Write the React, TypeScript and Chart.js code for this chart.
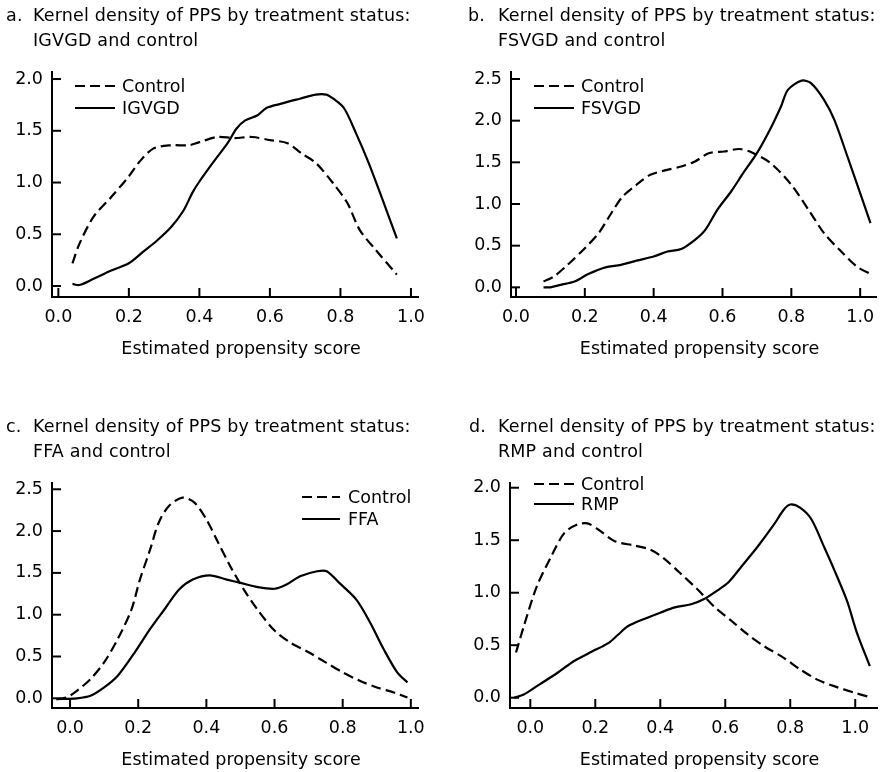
import React, { useEffect, useRef } from "react";
import { Chart, registerables } from "chart.js";

Chart.register(...registerables);

const FONT = "'DejaVu Sans', sans-serif";
const FS = 17.5;

const xTickValues = [0, 0.2, 0.4, 0.6, 0.8, 1.0];
const yTicksTo2 = [0, 0.5, 1.0, 1.5, 2.0];
const yTicksTo25 = [0, 0.5, 1.0, 1.5, 2.0, 2.5];
const xAxisTitle = "Estimated propensity score";
const controlLabel = "Control";

// Panel a: IGVGD and control
const aControlX = [0.04, 0.06, 0.1, 0.15, 0.2, 0.23, 0.27, 0.32, 0.37, 0.4, 0.45, 0.5, 0.55, 0.6, 0.65, 0.69, 0.73, 0.78, 0.82, 0.855, 0.9, 0.96];
const aControlY = [0.22, 0.41, 0.67, 0.86, 1.06, 1.2, 1.33, 1.36, 1.36, 1.39, 1.44, 1.43, 1.44, 1.41, 1.38, 1.28, 1.19, 0.99, 0.8, 0.54, 0.35, 0.11];
const aTreatX = [0.04, 0.06, 0.1, 0.15, 0.2, 0.24, 0.28, 0.32, 0.355, 0.38, 0.4, 0.44, 0.48, 0.505, 0.53, 0.565, 0.59, 0.63, 0.685, 0.73, 0.76, 0.78, 0.81, 0.845, 0.88, 0.92, 0.96];
const aTreatY = [0.02, 0.01, 0.07, 0.15, 0.22, 0.33, 0.44, 0.57, 0.73, 0.9, 1.01, 1.2, 1.38, 1.52, 1.6, 1.65, 1.72, 1.76, 1.81, 1.85, 1.85, 1.81, 1.72, 1.47, 1.19, 0.83, 0.46];

// Panel b: FSVGD and control
const bControlX = [0.08, 0.11, 0.15, 0.2, 0.24, 0.28, 0.31, 0.35, 0.39, 0.43, 0.48, 0.52, 0.56, 0.605, 0.65, 0.69, 0.74, 0.8, 0.85, 0.895, 0.94, 0.99, 1.03];
const bControlY = [0.07, 0.13, 0.27, 0.47, 0.65, 0.91, 1.09, 1.23, 1.35, 1.4, 1.45, 1.51, 1.61, 1.63, 1.66, 1.61, 1.49, 1.23, 0.93, 0.65, 0.45, 0.25, 0.16];
const bTreatX = [0.08, 0.1, 0.13, 0.17, 0.21, 0.26, 0.305, 0.35, 0.4, 0.44, 0.48, 0.52, 0.55, 0.585, 0.625, 0.66, 0.7, 0.74, 0.77, 0.79, 0.83, 0.857, 0.895, 0.925, 0.963, 1.0, 1.03];
const bTreatY = [0.0, 0.0, 0.03, 0.07, 0.16, 0.24, 0.27, 0.32, 0.37, 0.43, 0.46, 0.57, 0.69, 0.93, 1.15, 1.37, 1.61, 1.91, 2.17, 2.37, 2.48, 2.45, 2.25, 2.01, 1.57, 1.13, 0.77];

// Panel c: FFA and control
const cControlX = [-0.04, -0.01, 0.02, 0.06, 0.1, 0.14, 0.18, 0.205, 0.235, 0.26, 0.29, 0.33, 0.365, 0.4, 0.43, 0.47, 0.51, 0.55, 0.6, 0.645, 0.7, 0.75, 0.8, 0.85, 0.9, 0.95, 0.99];
const cControlY = [-0.01, 0.01, 0.09, 0.23, 0.43, 0.71, 1.06, 1.42, 1.78, 2.1, 2.3, 2.4, 2.34, 2.14, 1.9, 1.58, 1.3, 1.06, 0.81, 0.67, 0.55, 0.43, 0.31, 0.21, 0.13, 0.07, 0.01];
const cTreatX = [-0.04, 0.02, 0.06, 0.1, 0.14, 0.19, 0.235, 0.28, 0.32, 0.36, 0.41, 0.46, 0.5, 0.55, 0.6, 0.635, 0.675, 0.725, 0.753, 0.79, 0.84, 0.88, 0.92, 0.96, 0.99];
const cTreatY = [-0.01, 0.0, 0.03, 0.13, 0.27, 0.55, 0.83, 1.08, 1.3, 1.42, 1.47, 1.42, 1.38, 1.33, 1.31, 1.36, 1.46, 1.52, 1.52, 1.38, 1.18, 0.91, 0.59, 0.31, 0.19];

// Panel d: RMP and control
const dControlX = [-0.044, -0.02, 0.02, 0.065, 0.105, 0.145, 0.176, 0.21, 0.26, 0.32, 0.37, 0.41, 0.46, 0.515, 0.565, 0.62, 0.67, 0.72, 0.78, 0.83, 0.885, 0.935, 0.995, 1.04];
const dControlY = [0.43, 0.68, 1.06, 1.35, 1.57, 1.65, 1.66, 1.6, 1.49, 1.45, 1.41, 1.33, 1.19, 1.03, 0.87, 0.73, 0.6, 0.49, 0.38, 0.27, 0.17, 0.11, 0.05, 0.01];
const dTreatX = [-0.05, -0.02, 0.03, 0.085, 0.135, 0.19, 0.24, 0.27, 0.3, 0.35, 0.4, 0.445, 0.495, 0.535, 0.575, 0.61, 0.65, 0.7, 0.75, 0.78, 0.8, 0.83, 0.865, 0.905, 0.935, 0.975, 1.005, 1.045];
const dTreatY = [0.0, 0.03, 0.13, 0.24, 0.35, 0.44, 0.52, 0.6, 0.68, 0.75, 0.81, 0.86, 0.89, 0.94, 1.02, 1.1, 1.25, 1.44, 1.65, 1.79, 1.84, 1.81, 1.7, 1.43, 1.22, 0.92, 0.62, 0.3];

type Panel = {
  letter: string;
  line1: string;
  line2: string;
  treatLabel: string;
  controlX: number[];
  controlY: number[];
  treatX: number[];
  treatY: number[];
  yTicks: number[];
  xRange: [number, number];
  yRange: [number, number];
  cell: { left: number; top: number; width: number; height: number };
  plot: { L: number; T: number; R: number; B: number };
  axisTitleMid: number;
  legend: { dx: number; dy: number; gap: number; len: number; textDx: number };
  titleBox: { letterLeft: number; textLeft: number; top: number };
};

const panels: Panel[] = [
  {
    letter: "a.",
    line1: "Kernel density of PPS by treatment status:",
    line2: "IGVGD and control",
    treatLabel: "IGVGD",
    controlX: aControlX, controlY: aControlY, treatX: aTreatX, treatY: aTreatY,
    yTicks: yTicksTo2,
    xRange: [-0.018, 1.02],
    yRange: [-0.106, 2.068],
    cell: { left: 0, top: 0, width: 441, height: 386 },
    plot: { L: 52, T: 72, R: 418, B: 297 },
    axisTitleMid: 349,
    legend: { dx: 23, dy: 14, gap: 22, len: 40, textDx: 70 },
    titleBox: { letterLeft: 6, textLeft: 33, top: 3 },
  },
  {
    letter: "b.",
    line1: "Kernel density of PPS by treatment status:",
    line2: "FSVGD and control",
    treatLabel: "FSVGD",
    controlX: bControlX, controlY: bControlY, treatX: bTreatX, treatY: bTreatY,
    yTicks: yTicksTo25,
    xRange: [-0.0145, 1.046],
    yRange: [-0.116, 2.584],
    cell: { left: 441, top: 0, width: 441, height: 386 },
    plot: { L: 511, T: 72, R: 876, B: 297 },
    axisTitleMid: 349,
    legend: { dx: 23, dy: 14, gap: 22, len: 40, textDx: 70 },
    titleBox: { letterLeft: 468, textLeft: 498, top: 3 },
  },
  {
    letter: "c.",
    line1: "Kernel density of PPS by treatment status:",
    line2: "FFA and control",
    treatLabel: "FFA",
    controlX: cControlX, controlY: cControlY, treatX: cTreatX, treatY: cTreatY,
    yTicks: yTicksTo25,
    xRange: [-0.053, 1.021],
    yRange: [-0.116, 2.575],
    cell: { left: 0, top: 386, width: 441, height: 386 },
    plot: { L: 52, T: 483, R: 418, B: 708 },
    axisTitleMid: 760,
    legend: { dx: 250, dy: 14, gap: 22, len: 38, textDx: 296 },
    titleBox: { letterLeft: 6, textLeft: 33, top: 414 },
  },
  {
    letter: "d.",
    line1: "Kernel density of PPS by treatment status:",
    line2: "RMP and control",
    treatLabel: "RMP",
    controlX: dControlX, controlY: dControlY, treatX: dTreatX, treatY: dTreatY,
    yTicks: yTicksTo2,
    xRange: [-0.0625, 1.067],
    yRange: [-0.098, 2.045],
    cell: { left: 441, top: 386, width: 441, height: 386 },
    plot: { L: 510, T: 483, R: 877, B: 708 },
    axisTitleMid: 760,
    legend: { dx: 24, dy: 1, gap: 20, len: 40, textDx: 71 },
    titleBox: { letterLeft: 469, textLeft: 498, top: 414 },
  },
];

function toPoints(xs: number[], ys: number[]) {
  return xs.map((x, i) => ({ x, y: ys[i] }));
}

function PanelChart({ p }: { p: Panel }) {
  const ref = useRef<HTMLCanvasElement | null>(null);

  useEffect(() => {
    if (!ref.current) return;
    const { cell, plot } = p;

    const tickPlugin = {
      id: "innerTicks",
      afterDraw(chart: any) {
        const { ctx, chartArea, scales } = chart;
        ctx.save();
        ctx.strokeStyle = "#000";
        ctx.lineWidth = 2;
        ctx.setLineDash([]);
        scales.x.ticks.forEach((t: any) => {
          const px = scales.x.getPixelForValue(t.value);
          ctx.beginPath();
          ctx.moveTo(px, chartArea.bottom);
          ctx.lineTo(px, chartArea.bottom - 9);
          ctx.stroke();
        });
        scales.y.ticks.forEach((t: any) => {
          const py = scales.y.getPixelForValue(t.value);
          ctx.beginPath();
          ctx.moveTo(chartArea.left, py);
          ctx.lineTo(chartArea.left + 9, py);
          ctx.stroke();
        });
        ctx.restore();
      },
    };

    const axisTitlePlugin = {
      id: "axisTitle",
      afterDraw(chart: any) {
        const { ctx, chartArea } = chart;
        ctx.save();
        ctx.font = `${FS}px ${FONT}`;
        ctx.fillStyle = "#000";
        ctx.textAlign = "center";
        ctx.textBaseline = "middle";
        const cx = (chartArea.left + chartArea.right) / 2 + 6;
        ctx.fillText(xAxisTitle, cx, p.axisTitleMid - cell.top);
        ctx.restore();
      },
    };

    const legendPlugin = {
      id: "inlineLegend",
      afterDraw(chart: any) {
        const { ctx, chartArea } = chart;
        const lg = p.legend;
        ctx.save();
        chart.data.datasets.forEach((ds: any, i: number) => {
          const y = chartArea.top + lg.dy + i * lg.gap;
          const x0 = chartArea.left + lg.dx;
          ctx.beginPath();
          ctx.setLineDash(ds.borderDash || []);
          ctx.lineWidth = ds.borderWidth;
          ctx.strokeStyle = "#000";
          ctx.moveTo(x0, y);
          ctx.lineTo(x0 + lg.len, y);
          ctx.stroke();
          ctx.setLineDash([]);
          ctx.font = `${FS}px ${FONT}`;
          ctx.fillStyle = "#000";
          ctx.textAlign = "left";
          ctx.textBaseline = "middle";
          ctx.fillText(ds.label, chartArea.left + lg.textDx, y + 1.2);
        });
        ctx.restore();
      },
    };

    const font = { family: FONT, size: FS };

    const chart = new Chart(ref.current, {
      type: "line",
      data: {
        datasets: [
          {
            label: controlLabel,
            data: toPoints(p.controlX, p.controlY),
            borderColor: "#000",
            borderWidth: 2.2,
            borderDash: [10, 5],
            pointRadius: 0,
            tension: 0.3,
            fill: false,
          },
          {
            label: p.treatLabel,
            data: toPoints(p.treatX, p.treatY),
            borderColor: "#000",
            borderWidth: 2.2,
            pointRadius: 0,
            tension: 0.3,
            fill: false,
          },
        ],
      },
      options: {
        animation: false,
        responsive: false,
        devicePixelRatio: 1,
        layout: {
          padding: {
            left: 0,
            top: plot.T - cell.top,
            right: cell.left + cell.width - plot.R,
            bottom: 0,
          },
        },
        plugins: {
          legend: { display: false },
          tooltip: { enabled: false },
        },
        scales: {
          x: {
            type: "linear",
            min: p.xRange[0],
            max: p.xRange[1],
            afterBuildTicks: (s: any) => {
              s.ticks = xTickValues.map((v) => ({ value: v }));
            },
            afterFit: (s: any) => {
              s.height = cell.top + cell.height - plot.B;
              s.paddingLeft = 0;
              s.paddingRight = 0;
              s.paddingTop = 0;
              s.paddingBottom = 0;
            },
            grid: { display: false, drawTicks: false },
            border: { display: true, color: "#000", width: 2 },
            ticks: {
              color: "#000",
              font,
              padding: 10,
              autoSkip: false,
              maxRotation: 0,
              callback: (v: any) => Number(v).toFixed(1),
            },
            title: { display: false, text: xAxisTitle },
          },
          y: {
            type: "linear",
            min: p.yRange[0],
            max: p.yRange[1],
            afterBuildTicks: (s: any) => {
              s.ticks = p.yTicks.map((v) => ({ value: v }));
            },
            afterFit: (s: any) => {
              s.width = plot.L - cell.left;
              s.paddingLeft = 0;
              s.paddingRight = 0;
              s.paddingTop = 0;
              s.paddingBottom = 0;
            },
            grid: { display: false, drawTicks: false },
            border: { display: true, color: "#000", width: 2 },
            ticks: {
              color: "#000",
              font,
              padding: 9,
              autoSkip: false,
              callback: (v: any) => Number(v).toFixed(1),
            },
          },
        },
      },
      plugins: [tickPlugin, legendPlugin, axisTitlePlugin],
    } as any);

    return () => chart.destroy();
  }, [p]);

  return (
    <canvas
      ref={ref}
      width={p.cell.width}
      height={p.cell.height}
      style={{
        position: "absolute",
        left: p.cell.left,
        top: p.cell.top,
        width: p.cell.width,
        height: p.cell.height,
      }}
    />
  );
}

function PanelTitle({ p }: { p: Panel }) {
  const base: React.CSSProperties = {
    position: "absolute",
    top: p.titleBox.top,
    fontFamily: FONT,
    fontSize: FS,
    lineHeight: "25px",
    color: "#000",
    letterSpacing: "0.17px",
    whiteSpace: "nowrap",
  };
  return (
    <>
      <div style={{ ...base, left: p.titleBox.letterLeft }}>{p.letter}</div>
      <div style={{ ...base, left: p.titleBox.textLeft }}>
        <div>{p.line1}</div>
        <div>{p.line2}</div>
      </div>
    </>
  );
}

export default function App() {
  return (
    <div
      style={{
        position: "absolute",
        left: 0,
        top: 0,
        width: 882,
        height: 772,
        background: "#fff",
        overflow: "hidden",
      }}
    >
      {panels.map((p) => (
        <React.Fragment key={p.letter}>
          <PanelChart p={p} />
          <PanelTitle p={p} />
        </React.Fragment>
      ))}
    </div>
  );
}
